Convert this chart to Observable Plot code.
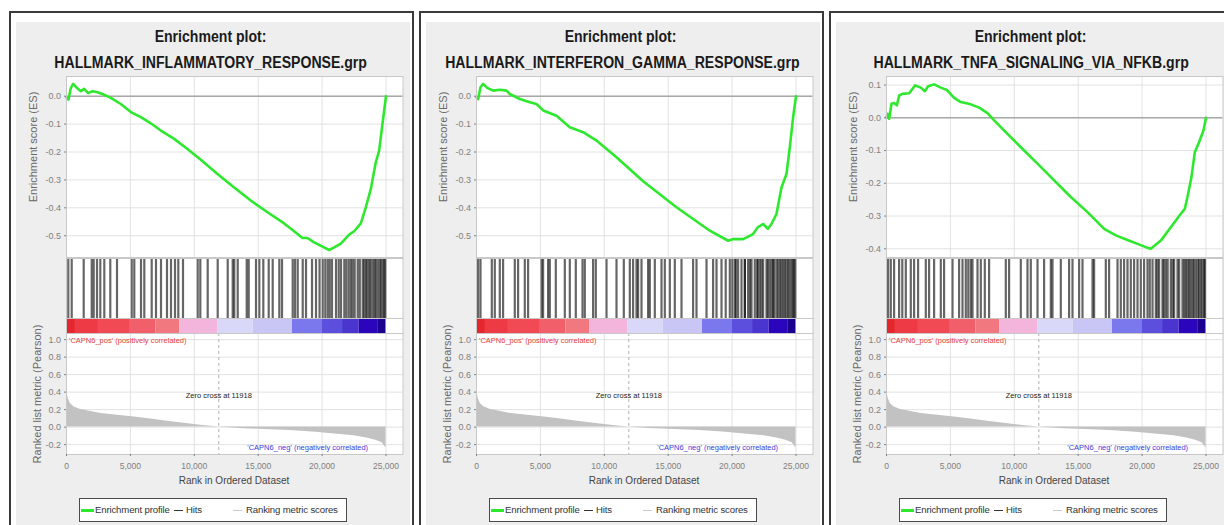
<!DOCTYPE html>
<html><head><meta charset="utf-8">
<script src="https://cdn.jsdelivr.net/npm/d3@7"></script>
<script src="https://cdn.jsdelivr.net/npm/@observablehq/plot@0.6"></script>
<style>
html,body{margin:0;padding:0;background:#fff;}
body{width:1224px;height:525px;overflow:hidden;position:relative;font-family:"Liberation Sans",Arial,sans-serif;}
.a{position:absolute;white-space:nowrap;}
</style>
</head><body>
<script>
// ---------- data ----------
const titles = ["HALLMARK_INFLAMMATORY_RESPONSE.grp", "HALLMARK_INTERFERON_GAMMA_RESPONSE.grp", "HALLMARK_TNFA_SIGNALING_VIA_NFKB.grp"];

// running enrichment score [rank, ES]
const esInflammatory = [[0,-0.004],[156,-0.012],[339,0.03],[522,0.044],[808,0.03],[1121,0.018],[1382,0.026],[1695,0.011],[2034,0.018],[2425,0.014],[2817,0.008],[3469,-0.006],[4251,-0.028],[5034,-0.057],[5816,-0.075],[6598,-0.097],[7381,-0.123],[8424,-0.153],[9467,-0.189],[10510,-0.228],[11814,-0.279],[13118,-0.327],[14422,-0.374],[15726,-0.416],[17030,-0.456],[17813,-0.484],[18465,-0.508],[18856,-0.508],[19377,-0.524],[20029,-0.539],[20551,-0.551],[20942,-0.542],[21464,-0.528],[22116,-0.496],[22507,-0.484],[23029,-0.456],[23420,-0.398],[23811,-0.333],[24202,-0.237],[24463,-0.195],[24724,-0.099],[25000,0.0]];
const esInterferon = [[0,-0.004],[130,-0.01],[313,0.032],[522,0.044],[835,0.03],[1304,0.02],[1826,0.023],[2347,0.02],[2608,0.008],[3390,-0.01],[4173,-0.022],[4694,-0.028],[5216,-0.051],[6259,-0.07],[7302,-0.111],[8346,-0.129],[9389,-0.159],[10954,-0.219],[13040,-0.305],[15648,-0.398],[18256,-0.482],[19691,-0.518],[20100,-0.512],[20864,-0.512],[21646,-0.494],[22000,-0.47],[22429,-0.458],[22800,-0.475],[23081,-0.458],[23472,-0.422],[23863,-0.327],[24254,-0.279],[24515,-0.183],[24776,-0.075],[25000,0.0]];
const esTnfa = [[0,0.0],[78,0.012],[209,-0.003],[391,0.043],[600,0.045],[808,0.038],[991,0.068],[1252,0.073],[1773,0.075],[2243,0.099],[2686,0.092],[3000,0.081],[3260,0.096],[3729,0.102],[4251,0.092],[4720,0.085],[5294,0.061],[5816,0.048],[6598,0.041],[7250,0.031],[7902,0.014],[8424,-0.008],[9467,-0.049],[10510,-0.09],[11814,-0.14],[13118,-0.191],[14422,-0.242],[15726,-0.288],[17030,-0.339],[17943,-0.359],[18856,-0.373],[19638,-0.385],[20290,-0.395],[20681,-0.4],[21464,-0.375],[22247,-0.334],[23029,-0.293],[23342,-0.278],[23550,-0.242],[23863,-0.181],[24124,-0.105],[24463,-0.074],[24802,-0.039],[25000,0.0]];

// hit positions (rank)
const hitsInflammatory = [141,407,1346,1972,2128,2387,2645,2958,3427,3952,5102,5305,5830,6088,6667,7003,7395,7864,8177,8490,8748,9116,10266,10470,11049,11831,12614,13005,13130,13397,14101,14257,14828,15087,15400,15822,16135,16652,16863,17700,17880,18091,18483,18741,19210,19523,19800,20048,20250,20439,20600,20775,21088,21300,21480,21738,21900,22082,22250,22395,22550,22787,22950,23178,23300,23436,23550,23694,23800,23960,24100,24200,24352,24500,24610,24750,24868,24950];
const hitsInterferon = [125,313,1197,1432,1823,2081,2997,3255,3779,4038,5086,5211,5603,5736,6205,6910,7301,7770,8295,8475,9124,9335,10173,10955,11526,11996,12254,12520,12645,12911,13428,13561,13952,14476,14735,15126,15517,16041,16949,17215,17998,18514,18780,19171,19500,19821,20017,20212,20300,20470,20736,20995,21000,21253,21400,21519,21777,21973,22000,22168,22300,22427,22693,22800,22951,23100,23209,23300,23475,23600,23750,23866,24000,24124,24250,24383,24500,24649,24750,24852,24950];
const hitsTnfa = [125,336,595,986,1236,1510,1902,2160,2473,3075,3333,3725,4249,4507,5165,5681,5947,6205,6401,6597,6730,7121,7379,7692,8029,9335,9593,10509,11033,11291,11816,12332,12857,12990,13639,14289,14555,15071,15337,16120,16245,17160,17418,18076,18334,18592,18858,19116,19375,19641,19899,20157,20423,20600,20815,21073,21200,21332,21598,21700,21856,22000,22247,22400,22505,22771,22900,23162,23300,23421,23550,23679,23800,23945,24050,24203,24350,24461,24600,24727,24850,24930];

// ranked list metric (shared)
const metricRank  = [0,60,150,300,600,1100,1800,2700,4000,5300,6600,7900,9200,10500,11918,13500,15500,17500,19500,21000,22500,23500,24200,24700,25000];
const metricValue = [0.46,0.38,0.32,0.27,0.23,0.2,0.18,0.155,0.135,0.115,0.092,0.068,0.045,0.022,0.0,-0.015,-0.027,-0.04,-0.058,-0.078,-0.1,-0.125,-0.15,-0.18,-0.24];
const zeroCross = 11918;

// colour bar blocks of the ranked list (shared)
const barStart = [0,700,2500,5000,7000,8870,11820,14600,17680,20030,21600,22900,24400];
const barEnd   = [700,2500,5000,7000,8870,11820,14600,17680,20030,21600,22900,24400,25000];
const barLevel = [0,1,2,3,4,5,6,7,8,9,10,11,12];

const esTicksA = [-0.5,-0.4,-0.3,-0.2,-0.1,0.0];
const esTicksB = [-0.4,-0.3,-0.2,-0.1,0.0,0.1];
const metricTicks = [-0.2,0,0.2,0.4,0.6,0.8,1.0];
const rankTicks = [0,5000,10000,15000,20000,25000];

const posLabel = "'CAPN6_pos' (positively correlated)";
const negLabel = "'CAPN6_neg' (negatively correlated)";
const zeroLabel = "Zero cross at " + zeroCross;

// ---------- build ----------
const toPts = arr => arr.map(([rank, es]) => ({rank, es}));
const metric = metricRank.map((r, i) => ({rank: r, value: metricValue[i]}));
const bar = barStart.map((s, i) => ({start: s, end: barEnd[i], level: barLevel[i]}));
const barColors = ["#e5262e","#ee3a44","#f24a55","#f05f6a","#f27880","#f3b5dc","#dad8f8","#c9c5f5","#7b78ee","#5d4fde","#4a35cf","#2a05bb","#1c0090"];

const panels = [
  {title: titles[0], es: toPts(esInflammatory), hits: hitsInflammatory, dom: [-0.578, 0.0706], ticks: esTicksA},
  {title: titles[1], es: toPts(esInterferon), hits: hitsInterferon, dom: [-0.578, 0.0706], ticks: esTicksA},
  {title: titles[2], es: toPts(esTnfa), hits: hitsTnfa, dom: [-0.4266, 0.126], ticks: esTicksB}
];

const root = document.body;
function div(style, text) {
  const e = document.createElement("div");
  e.className = "a";
  Object.assign(e.style, style);
  if (text != null) e.textContent = text;
  root.appendChild(e);
  return e;
}
function place(svg, left, top) {
  svg.style.position = "absolute";
  svg.style.left = left + "px";
  svg.style.top = top + "px";
  root.appendChild(svg);
}

const W = 385, ML = 46, MR = 2.5;
const xDom = [0, 26330];
const fmt1 = d => d.toFixed(1);
const gridCol = "#e2e2e2";
const boxCol = "#c8c8c8";
const font = "Liberation Sans, Arial, sans-serif";

panels.forEach((p, i) => {
  const ox = 410 * i;
  // outer frame + grey background
  div({left: (ox + 9) + "px", top: "11px", width: "405px", height: "530px", border: "2px solid #3a3a3a", boxSizing: "border-box", background: "#fff"});
  div({left: (ox + 16) + "px", top: "21.5px", width: "394px", height: "520px", background: "#eeeeee"});

  // titles
  const t1 = div({left: (ox + 11) + "px", top: "28.5px", width: "400px", textAlign: "center", fontWeight: "bold", fontSize: "16px", lineHeight: "16px", color: "#1a1a1a"});
  t1.innerHTML = `<span style="display:inline-block;transform:scaleX(0.88)">Enrichment plot:</span>`;
  const t2 = div({left: (ox + 11) + "px", top: "54.5px", width: "400px", textAlign: "center", fontWeight: "bold", fontSize: "16px", lineHeight: "16px", color: "#1a1a1a"});
  const sp = document.createElement("span");
  sp.style.display = "inline-block"; sp.style.transform = "scaleX(0.88)";
  sp.textContent = p.title; t2.appendChild(sp);

  const sx = ox + 19.5;
  // ES plot
  const es = Plot.plot({
    width: W, height: 184, marginLeft: ML, marginRight: MR, marginTop: 2, marginBottom: 1,
    style: {background: "transparent", fontFamily: font, overflow: "visible"},
    x: {domain: xDom, axis: null},
    y: {domain: p.dom, axis: null},
    marks: [
      Plot.frame({fill: "white", stroke: "none"}),
      Plot.gridX(rankTicks, {stroke: gridCol, strokeOpacity: 1}),
      Plot.gridY(p.ticks, {stroke: gridCol, strokeOpacity: 1}),
      Plot.ruleY([0], {stroke: "#a8a8a8", strokeWidth: 1.5}),
      Plot.line(p.es, {x: "rank", y: "es", stroke: "#2ee82e", strokeWidth: 2.6}),
      Plot.frame({stroke: boxCol}),
      Plot.axisY(p.ticks, {tickFormat: fmt1, tickSize: 2, tickPadding: 3.5, fontSize: 9, color: "#808080", label: null})
    ]
  });
  place(es, sx, 74);

  // hits
  const hits = Plot.plot({
    width: W, height: 63, marginLeft: ML, marginRight: MR, marginTop: 2, marginBottom: 1,
    style: {background: "transparent", fontFamily: font, overflow: "visible"},
    x: {domain: xDom, axis: null},
    marks: [
      Plot.frame({fill: "white", stroke: "none"}),
      Plot.ruleX(p.hits, {stroke: "#000", strokeOpacity: 0.6, strokeWidth: 2.2}),
      Plot.frame({stroke: boxCol})
    ]
  });
  place(hits, sx, 256);

  // colour bar
  const cb = Plot.plot({
    width: W, height: 18, marginLeft: ML, marginRight: MR, marginTop: 2, marginBottom: 1,
    style: {background: "transparent", fontFamily: font, overflow: "visible"},
    x: {domain: xDom, axis: null},
    color: {type: "ordinal", domain: barLevel, range: barColors},
    marks: [
      Plot.frame({fill: "white", stroke: "none"}),
      Plot.rect(bar, {x1: "start", x2: "end", fill: "level"}),
      Plot.frame({stroke: boxCol})
    ]
  });
  place(cb, sx, 316);

  // ranked list metric
  const mt = Plot.plot({
    width: W, height: 160, marginLeft: ML, marginRight: MR, marginTop: 2, marginBottom: 37,
    style: {background: "transparent", fontFamily: font, overflow: "visible"},
    x: {domain: xDom, axis: null},
    y: {domain: [-0.313, 1.07], axis: null},
    marks: [
      Plot.frame({fill: "white", stroke: "none"}),
      Plot.gridX(rankTicks, {stroke: gridCol, strokeOpacity: 1}),
      Plot.gridY(metricTicks, {stroke: gridCol, strokeOpacity: 1}),
      Plot.areaY(metric, {x: "rank", y: "value", fill: "#c2c2c2"}),
      Plot.ruleX([zeroCross], {stroke: "#b0b0b0", strokeDasharray: "3,3"}),
      Plot.text([posLabel], {x: 196, y: 0.99, text: d => d, textAnchor: "start", fill: "#e8413c", fontSize: 7.5}),
      Plot.text([zeroLabel], {x: zeroCross, y: 0.363, text: d => d, textAnchor: "middle", fill: "#222", fontSize: 7.5}),
      Plot.text([negLabel], {x: 23600, y: -0.236, text: d => d, textAnchor: "end", fill: "#3c3cdc", fontSize: 7.5}),
      Plot.frame({stroke: boxCol}),
      Plot.axisY(metricTicks, {tickFormat: fmt1, tickSize: 2, tickPadding: 3.5, fontSize: 9, color: "#808080", label: null}),
      Plot.axisX(rankTicks, {tickFormat: d3.format(","), tickSize: 2, tickPadding: 6, fontSize: 8.5, color: "#808080", label: null})
    ]
  });
  place(mt, sx, 331);

  // axis titles
  div({left: (ox + 33) + "px", top: "147px", transform: "translate(-50%,-50%) rotate(-90deg)", fontSize: "11px", color: "#6a6a6a"}, "Enrichment score (ES)");
  div({left: (ox + 36.5) + "px", top: "394px", transform: "translate(-50%,-50%) rotate(-90deg)", fontSize: "11px", color: "#6a6a6a"}, "Ranked list metric (Pearson)");
  div({left: (ox + 234) + "px", top: "480px", transform: "translate(-50%,-50%)", fontSize: "10px", color: "#444"}, "Rank in Ordered Dataset");

  // legend
  const lg = div({left: (ox + 79) + "px", top: "498px", width: "268px", height: "24px", border: "1.5px solid #4a4a4a", boxSizing: "border-box", background: "#fff", fontSize: "9.6px", letterSpacing: "-0.15px", color: "#333"});
  lg.innerHTML =
    `<div style="position:absolute;left:1px;top:9.5px;width:13px;height:3px;background:#2ee82e"></div>` +
    `<div style="position:absolute;left:15px;top:5px;line-height:12px">Enrichment profile</div>` +
    `<div style="position:absolute;left:94px;top:10.5px;width:9px;height:1px;background:#333"></div>` +
    `<div style="position:absolute;left:106px;top:5px;line-height:12px">Hits</div>` +
    `<div style="position:absolute;left:153px;top:10.5px;width:9px;height:1px;background:#c8c8c8"></div>` +
    `<div style="position:absolute;left:166px;top:5px;line-height:12px">Ranking metric scores</div>`;
});
</script>
</body></html>
